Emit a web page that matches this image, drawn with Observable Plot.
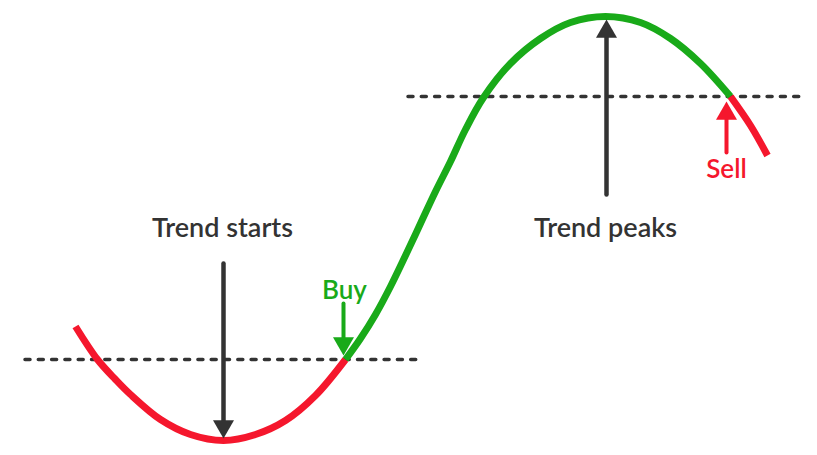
<!DOCTYPE html>
<html>
<head>
<meta charset="utf-8">
<script src="https://cdn.jsdelivr.net/npm/d3@7"></script>
<script src="https://cdn.jsdelivr.net/npm/@observablehq/plot@0.6"></script>
<style>
  html, body { margin: 0; padding: 0; background: #fff; }
  #chart svg { display: block; }
</style>
</head>
<body>
<div id="chart"></div>
<script>
// Price curve (x position, price level), with segment colour key
const curveX   = [75, 97, 115, 130, 160, 190, 223, 255, 285, 315, 345,
                  345, 360, 375, 390, 405, 420, 435, 450, 465, 483, 510, 540, 570, 605, 640, 670, 700, 730,
                  730, 750, 767];
const curveY   = [129, 96, 76, 61, 36, 21, 15, 21, 35, 60, 96,
                  96, 117, 141, 169, 200, 232, 264, 294, 326, 358, 392, 417, 433, 439, 433, 417, 392, 359,
                  359, 330, 300];
const curveSeg = ["a","a","a","a","a","a","a","a","a","a","a",
                  "b","b","b","b","b","b","b","b","b","b","b","b","b","b","b","b","b","b",
                  "c","c","c"];
const segColor = {a: "#f5172d", b: "#19aa19", c: "#f5172d"};

// Dashed threshold lines
const dashX1 = [25, 408];
const dashX2 = [421, 804];
const dashLevel = [96, 359];

// Arrows
const arrowX    = [223, 606, 343, 726];
const arrowTail = [192, 261, 152, 303];
const arrowTip  = [17, 436, 100, 354];
const arrowColor = ["#333333", "#333333", "#19aa19", "#f5172d"];
const arrowWidth = [4.5, 4.5, 4, 4];

// Labels
const labelText  = ["Trend starts", "Trend peaks", "Buy", "Sell"];
const labelX     = [222, 605, 344, 726];
const labelLevel = [219, 219, 157, 278];
const labelColor = ["#333333", "#333333", "#19aa19", "#f5172d"];
const labelSize  = [27, 27, 26, 26];

const curve = curveX.map((x, i) => ({x, y: curveY[i], seg: curveSeg[i]}));
const dashes = dashX1.map((x1, i) => ({x1, x2: dashX2[i], y: dashLevel[i]}));
const headLen = 18;
const arrows = arrowX.map((x, i) => {
  const dir = Math.sign(arrowTip[i] - arrowTail[i]); // +1 up, -1 down
  return {x, tail: arrowTail[i], tip: arrowTip[i], base: arrowTip[i] - dir * (headLen - 2),
          color: arrowColor[i], w: arrowWidth[i], up: dir > 0};
});
const labels = labelText.map((t, i) => ({t, x: labelX[i], y: labelLevel[i], color: labelColor[i], size: labelSize[i]}));

const chart = Plot.plot({
  width: 817,
  height: 455,
  margin: 0,
  x: {domain: [0, 817], range: [0, 817], axis: null},
  y: {domain: [0, 455], range: [455, 0], axis: null},
  marks: [
    Plot.ruleY(dashes, {x1: "x1", x2: "x2", y: "y", stroke: "#333", strokeWidth: 3.5,
      strokeDasharray: "5,8.3", strokeLinecap: "round"}),
    ...["a","b","c"].map(s => Plot.line(curve.filter(d => d.seg === s), {
      x: "x", y: "y", stroke: segColor[s], strokeWidth: 7, curve: "catmull-rom", strokeLinecap: "butt"})),
    ...arrows.map(a => Plot.link([a], {x1: "x", y1: "tail", x2: "x", y2: "base",
      stroke: a.color, strokeWidth: a.w, strokeLinecap: "round"})),
    ...arrows.map(a => Plot.dot([a], {x: "x", y: "tip", symbol: "triangle", r: 7.8,
      fill: a.color, stroke: null, rotate: a.up ? 0 : 180, dy: a.up ? 12.1 : -12.1})),
    ...labels.map(l => Plot.text([l], {x: "x", y: "y", text: "t", fill: l.color,
      fontSize: l.size, fontFamily: "Lato", fontWeight: 600, lineAnchor: "bottom", textAnchor: "middle"}))
  ]
});
document.getElementById("chart").appendChild(chart);
</script>
</body>
</html>
